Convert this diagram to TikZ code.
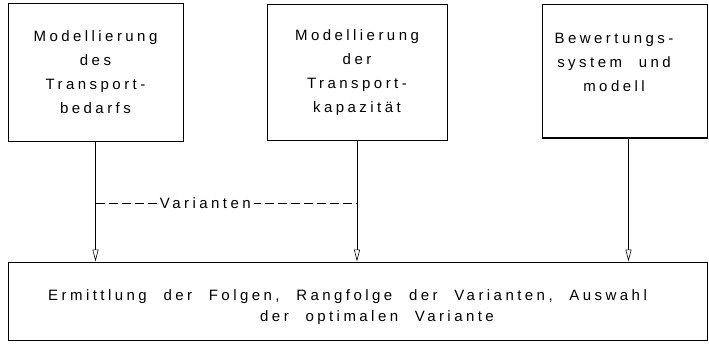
\documentclass[tikz,border=0pt]{standalone}
\usepackage{fontspec}
\setmainfont{Liberation Sans}[LetterSpace=23, WordSpace=2.2]
\usetikzlibrary{arrows.meta}
\begin{document}
\begin{tikzpicture}[x=1pt,y=1pt,
  box/.style={draw, line width=1pt, inner sep=0pt, align=center,
    font=\fontsize{15}{24}\selectfont},
  txt/.style={inner sep=0pt, align=center, font=\fontsize{15}{24}\selectfont},
  arr/.style={line width=0.6pt, -{Triangle[open, length=12pt, width=6pt]}},
  dashline/.style={line width=0.6pt, dash pattern=on 9pt off 4pt}]
\useasboundingbox (0,0) rectangle (709,-350);
\node[box, minimum width=175pt, minimum height=137pt] (b1) at (95.5,-72.5)
  {Modellierung\\des\\Transport-\\bedarfs};
\node[box, minimum width=180pt, minimum height=135pt] (b2) at (357,-72.5)
  {Modellierung\\der\\Transport-\\kapazität};
\node[box, minimum width=165pt, minimum height=133pt] (b3) at (624.5,-71.5) {};
\node[txt] (t3) at (614,-62) {Bewertungs-\\system und\\modell};
\node[box, minimum width=699pt, minimum height=78pt] (bot) at (358,-301) {};
\node[txt, anchor=west, align=left, font=\fontsize{15}{21}\selectfont] (tb) at (48,-307.5)
  {Ermittlung der Folgen, Rangfolge der Varianten, Auswahl\\
   \hspace*{212pt}der optimalen Variante};
\draw[arr] (b1.south) -- (b1.south |- bot.north);
\draw[arr] (b2.south) -- (b2.south |- bot.north);
\draw[arr] ([xshift=4pt]b3.south) -- ([xshift=4pt]b3.south |- bot.north);
\coordinate (d1) at (95.5,-203);
\coordinate (d2) at (357,-203);
\draw[dashline] (d1) -- node[pos=0.42, fill=white, inner sep=3pt, font=\fontsize{15}{15}\selectfont] (var) {Varianten} (d2);
\end{tikzpicture}
\end{document}
